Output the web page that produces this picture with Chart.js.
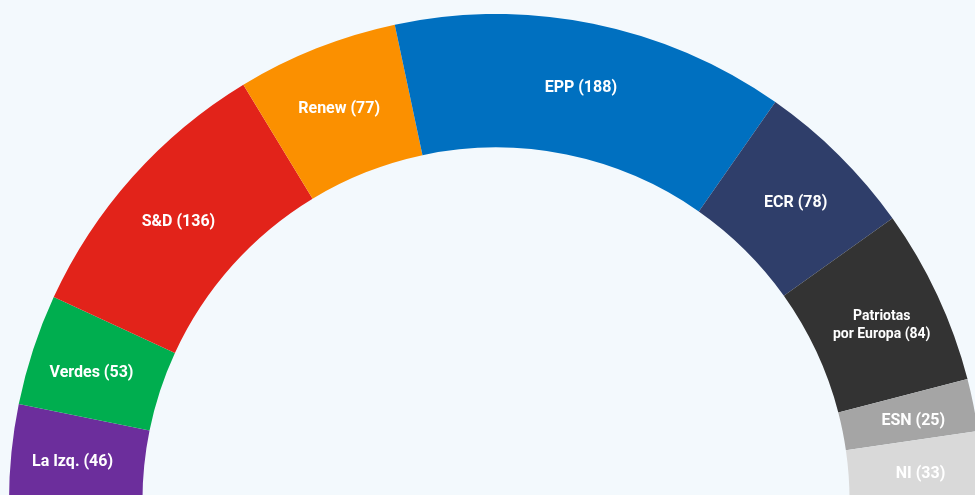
<!DOCTYPE html>
<html>
<head>
<meta charset="utf-8">
<script src="https://cdn.jsdelivr.net/npm/chart.js@4"></script>
<style>
  html, body { margin: 0; padding: 0; width: 975px; height: 495px; overflow: hidden; background: #f3f9fd; }
  #wrap { position: absolute; left: 9px; top: 14px; width: 974px; height: 487px; }
</style>
</head>
<body>
<div id="wrap"><canvas id="parl"></canvas></div>
<script>
// grupos del parlamento, de izquierda a derecha
const groups = ['La Izq.', 'Verdes', 'S&D', 'Renew', 'EPP', 'ECR', 'Patriotas\npor Europa', 'ESN', 'NI'];
const seats = [46, 53, 136, 77, 188, 78, 84, 25, 33];
const colors = ['#6c2e9c', '#00ae4f', '#e2231a', '#fb9000', '#0070c0', '#2f3e6a', '#333333', '#a5a5a5', '#d9d9d9'];

// etiquetas dentro de cada sector
const arcLabels = {
    id: 'arcLabels',
    afterDatasetsDraw(chart) {
        const ctx = chart.ctx;
        const meta = chart.getDatasetMeta(0);
        ctx.save();
        ctx.fillStyle = '#ffffff';
        ctx.textAlign = 'center';
        ctx.textBaseline = 'middle';
        meta.data.forEach((arc, i) => {
            const p = arc.getProps(['x', 'y', 'startAngle', 'endAngle', 'innerRadius', 'outerRadius'], true);
            const mid = (p.startAngle + p.endAngle) / 2;
            const r = p.innerRadius + (p.outerRadius - p.innerRadius) * 0.54;
            const x = p.x + Math.cos(mid) * r;
            const y = p.y + Math.sin(mid) * r + 4;
            const lines = (groups[i] + ' (' + seats[i] + ')').split('\n');
            const size = lines.length > 1 ? 14 : 16;
            ctx.font = 'bold ' + size + 'px Roboto, "Noto Sans", sans-serif';
            const lh = size + 4;
            lines.forEach((t, k) => {
                ctx.fillText(t, x, y + (k - (lines.length - 1) / 2) * lh);
            });
        });
        ctx.restore();
    }
};

new Chart(document.getElementById('parl'), {
    type: 'doughnut',
    data: {
        labels: groups,
        datasets: [{
            data: seats,
            backgroundColor: colors,
            borderWidth: 0
        }]
    },
    options: {
        responsive: true,
        maintainAspectRatio: false,
        animation: false,
        rotation: -90,
        circumference: 180,
        cutout: '72.6%',
        layout: { padding: 0 },
        plugins: {
            legend: { display: false },
            tooltip: { enabled: false }
        }
    },
    plugins: [arcLabels]
});
</script>
</body>
</html>
